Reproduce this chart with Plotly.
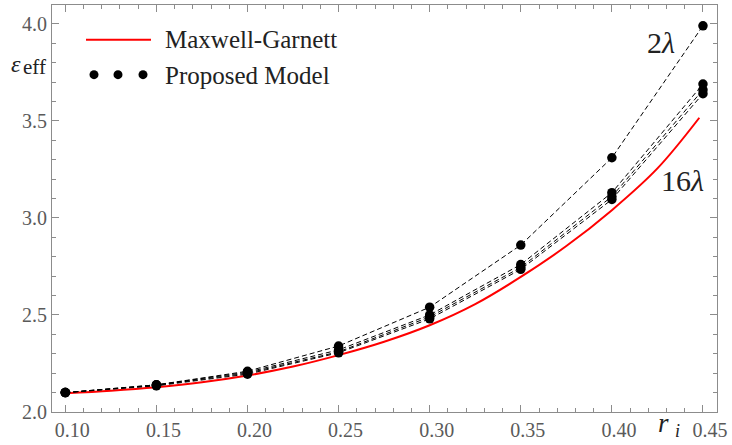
import plotly.graph_objects as go

# ---- data ----
r_vals = [0.10, 0.15, 0.20, 0.25, 0.30, 0.35, 0.40, 0.45]
series_names = ["2λ", "4λ", "8λ", "16λ"]
eps_2 = [2.10, 2.14, 2.21, 2.34, 2.54, 2.86, 3.31, 3.99]
eps_4 = [2.10, 2.14, 2.205, 2.32, 2.50, 2.76, 3.13, 3.69]
eps_8 = [2.10, 2.137, 2.20, 2.31, 2.49, 2.745, 3.11, 3.66]
eps_16 = [2.10, 2.135, 2.195, 2.305, 2.48, 2.735, 3.095, 3.64]

mg_r = [0.10, 0.125, 0.15, 0.175, 0.20, 0.225, 0.25, 0.275, 0.30, 0.325, 0.35, 0.375, 0.40, 0.425, 0.448]
mg_eps = [2.097, 2.110, 2.128, 2.153, 2.188, 2.234, 2.293, 2.362, 2.447, 2.556, 2.696, 2.855, 3.040, 3.255, 3.516]

x_ticks = [0.10, 0.15, 0.20, 0.25, 0.30, 0.35, 0.40, 0.45]
x_ticktext = ["0.10", "0.15", "0.20", "0.25", "0.30", "0.35", "0.40", "0.45"]
y_ticks = [2.0, 2.5, 3.0, 3.5, 4.0]
y_ticktext = ["2.0", "2.5", "3.0", "3.5", "4.0"]

SERIF = "Liberation Serif"
GRAY = "#8c8c8c"
TXT = "#222222"

# plot-area pixel geometry (for placing annotations in paper coords)
L, R, T, B = 52, 717, 4, 413


def px(xp):
    return (xp - L) / (R - L)


def py(yp):
    return (B - yp) / (B - T)


fig = go.Figure()

fig.add_trace(go.Scatter(x=mg_r, y=mg_eps, mode="lines", line=dict(color="#ff0000", width=2, shape="spline"),
                         name="Maxwell-Garnett", showlegend=False))

for name, ys in zip(series_names, [eps_2, eps_4, eps_8, eps_16]):
    fig.add_trace(go.Scatter(x=r_vals, y=ys, mode="lines+markers", name=name, showlegend=False,
                             line=dict(color="black", width=1, dash="5px,3px"),
                             marker=dict(color="black", size=9.5)))

axis_common = dict(showline=True, linecolor=GRAY, linewidth=1.2, mirror="ticks", ticks="inside",
                   tickcolor=GRAY, tickwidth=1, ticklen=7, showgrid=False, zeroline=False,
                   tickfont=dict(family=SERIF, size=20, color="#5a5a5a"))

fig.update_xaxes(range=[0.0927, 0.4577], tickvals=x_ticks, ticktext=x_ticktext, ticklabelshift=7,
                 minor=dict(dtick=0.01, tick0=0.10, ticks="inside", ticklen=4, tickcolor=GRAY, showgrid=False),
                 **axis_common)
fig.update_yaxes(range=[2.0, 4.097], tickvals=y_ticks, ticktext=y_ticktext,
                 minor=dict(dtick=0.1, tick0=2.0, ticks="inside", ticklen=4, tickcolor=GRAY, showgrid=False),
                 **axis_common)


def ann(text, x, y, size, anchor="center", italic=False):
    t = f"<i>{text}</i>" if italic else text
    return dict(text=t, xref="paper", yref="paper", x=px(x), y=py(y), xanchor=anchor, yanchor="middle",
                showarrow=False, font=dict(family=SERIF, size=size, color=TXT))


annotations = [
    ann("ε", 16, 63, 24, italic=True),
    ann("eff", 34, 66, 21),
    ann("r", 663, 424, 27, italic=True),
    ann("i", 677, 432, 18, italic=True),
    dict(text="2<i>λ</i>", xref="paper", yref="paper", x=px(661), y=py(42), xanchor="center", yanchor="middle",
         showarrow=False, font=dict(family=SERIF, size=30, color=TXT)),
    dict(text="16<i>λ</i>", xref="paper", yref="paper", x=px(682), y=py(180), xanchor="center", yanchor="middle",
         showarrow=False, font=dict(family=SERIF, size=30, color=TXT)),
    ann("Maxwell-Garnett", 163, 39, 25, anchor="left"),
    ann("Proposed Model", 163, 75, 25, anchor="left"),
]

shapes = [dict(type="line", xref="paper", yref="paper", x0=px(86), x1=px(151), y0=py(39), y1=py(39),
               line=dict(color="#ff0000", width=2))]
for xd in [94, 118, 143]:
    shapes.append(dict(type="circle", xref="paper", yref="paper", xsizemode="pixel", ysizemode="pixel",
                       xanchor=px(xd), yanchor=py(74), x0=-4.5, x1=4.5, y0=-4.5, y1=4.5,
                       fillcolor="black", line=dict(color="black", width=0)))

fig.update_layout(width=732, height=445, margin=dict(l=L, r=732 - R, t=T, b=445 - B),
                  plot_bgcolor="white", paper_bgcolor="white", showlegend=False,
                  annotations=annotations, shapes=shapes)

fig.write_html("out.html", config={"displayModeBar": False},
               post_script="document.body.style.margin='0';document.body.style.overflow='hidden';")
